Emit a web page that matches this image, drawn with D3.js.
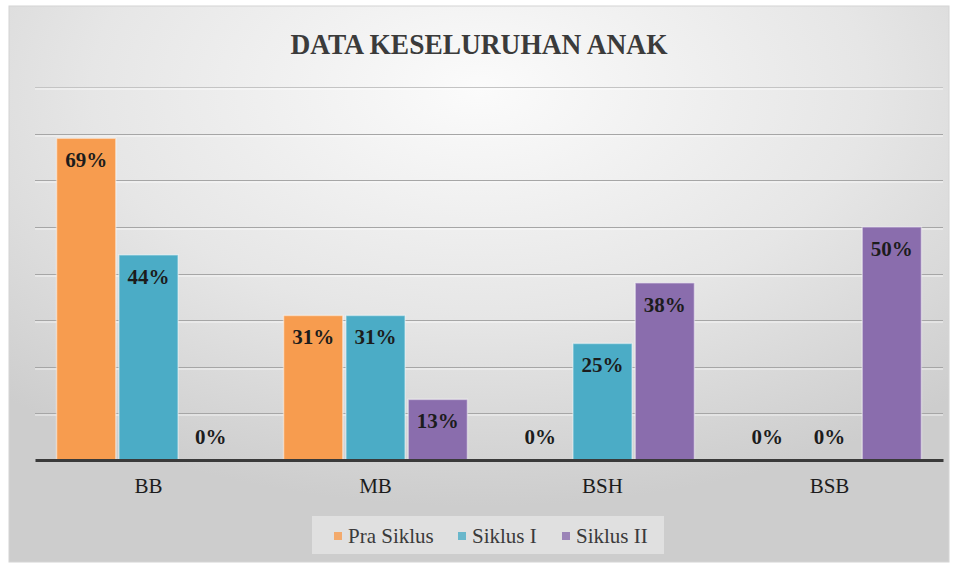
<!DOCTYPE html>
<html>
<head>
<meta charset="utf-8">
<script src="https://cdn.jsdelivr.net/npm/d3@7/dist/d3.min.js"></script>
<style>
  body { margin: 0; background: #fff; }
  svg text { font-family: 'Liberation Serif', 'Times New Roman', serif; }
</style>
</head>
<body>
<svg id="chart" width="958" height="567"></svg>
<script>
// chart data
var categories = ['BB', 'MB', 'BSH', 'BSB'];
var seriesNames = ['Pra Siklus', 'Siklus I', 'Siklus II'];
var praSiklus = [69, 31, 0, 0];
var siklusI = [44, 31, 25, 0];
var siklusII = [0, 13, 38, 50];
var gridTicks = [0, 10, 20, 30, 40, 50, 60, 70, 80];

var seriesValues = [praSiklus, siklusI, siklusII];
var colors = ['#F79C4F', '#4BACC6', '#8A6DAD'];

var svg = d3.select('#chart');
var defs = svg.append('defs');

// soft gray background like the office chart style
var grad = defs.append('radialGradient')
  .attr('id', 'bg')
  .attr('cx', '50%').attr('cy', '15%').attr('r', '75%');
grad.append('stop').attr('offset', '0%').attr('stop-color', '#fbfbfb');
grad.append('stop').attr('offset', '55%').attr('stop-color', '#e6e6e6');
grad.append('stop').attr('offset', '100%').attr('stop-color', '#cdcdcd');

svg.append('rect')
  .attr('x', 9).attr('y', 6)
  .attr('width', 940).attr('height', 556)
  .attr('fill', 'url(#bg)')
  .attr('stroke', '#d4d4d4');

var plotLeft = 35, plotRight = 943, plotTop = 87, baseline = 460;

var x0 = d3.scaleBand()
  .domain(categories)
  .range([plotLeft, plotRight])
  .paddingInner(0.19)
  .paddingOuter(0.095);

var x1 = d3.scaleBand()
  .domain(seriesNames)
  .range([0, x0.bandwidth()])
  .paddingInner(0.05);

var y = d3.scaleLinear()
  .domain([0, 80])
  .range([baseline, plotTop]);

// gridlines
var grid = svg.append('g');
grid.selectAll('line.g')
  .data(gridTicks.slice(1))
  .enter().append('line')
  .attr('class', 'g')
  .attr('x1', plotLeft).attr('x2', plotRight)
  .attr('y1', function(d){ return Math.round(y(d)) + 0.5; })
  .attr('y2', function(d){ return Math.round(y(d)) + 0.5; })
  .attr('stroke', function(d){ return d === 80 ? '#c4c4c4' : '#a6a6a6'; })
  .attr('stroke-width', 1);
grid.selectAll('line.h')
  .data(gridTicks.slice(1))
  .enter().append('line')
  .attr('class', 'h')
  .attr('x1', plotLeft).attr('x2', plotRight)
  .attr('y1', function(d){ return Math.round(y(d)) + 2; })
  .attr('y2', function(d){ return Math.round(y(d)) + 2; })
  .attr('stroke', '#ffffff')
  .attr('stroke-opacity', 0.7)
  .attr('stroke-width', 1);

// bars
var groups = svg.append('g').selectAll('g')
  .data(categories)
  .enter().append('g')
  .attr('transform', function(d){ return 'translate(' + x0(d) + ',0)'; });

groups.selectAll('rect')
  .data(function(d, i){
    return seriesNames.map(function(s, j){ return {s: s, v: seriesValues[j][i], c: colors[j]}; });
  })
  .enter().append('rect')
  .attr('x', function(d){ return x1(d.s); })
  .attr('y', function(d){ return y(d.v); })
  .attr('width', x1.bandwidth())
  .attr('height', function(d){ return baseline - y(d.v); })
  .attr('fill', function(d){ return d.c; })
  .attr('stroke', '#ffffff')
  .attr('stroke-opacity', function(d){ return d.v > 0 ? 0.45 : 0; })
  .attr('stroke-width', 1.5);

// data labels, inside the bar top (zero values sit just above the axis)
groups.selectAll('text')
  .data(function(d, i){
    return seriesNames.map(function(s, j){ return {s: s, v: seriesValues[j][i]}; });
  })
  .enter().append('text')
  .attr('x', function(d){ return x1(d.s) + x1.bandwidth() / 2; })
  .attr('y', function(d){ return d.v > 0 ? y(d.v) + 29 : baseline - 16; })
  .attr('text-anchor', 'middle')
  .attr('font-size', 21)
  .attr('font-weight', 'bold')
  .attr('fill', '#1c1c1c')
  .text(function(d){ return d.v + '%'; });

// baseline axis
var xAxis = svg.append('g')
  .attr('transform', 'translate(0,' + baseline + ')')
  .call(d3.axisBottom(x0).tickSize(0).tickPadding(18));
xAxis.attr('font-family', null);
xAxis.select('.domain')
  .attr('stroke', '#3a3a3a')
  .attr('stroke-width', 3);
xAxis.selectAll('text')
  .attr('font-size', 21)
  .attr('fill', '#1c1c1c');

// title
svg.append('text')
  .attr('x', 479).attr('y', 54)
  .attr('text-anchor', 'middle')
  .attr('font-size', 30)
  .attr('font-weight', 'bold')
  .attr('fill', '#3b3b3b')
  .attr('textLength', 377)
  .attr('lengthAdjust', 'spacingAndGlyphs')
  .text('DATA KESELURUHAN ANAK');

// legend
svg.append('rect')
  .attr('x', 312).attr('y', 516)
  .attr('width', 352).attr('height', 38)
  .attr('fill', '#ececec').attr('fill-opacity', 0.6);

var legendX = [334, 458, 562];
var legend = svg.append('g').selectAll('g')
  .data(seriesNames)
  .enter().append('g')
  .attr('transform', function(d, i){ return 'translate(' + legendX[i] + ',536)'; });
legend.append('rect')
  .attr('x', 0).attr('y', -4)
  .attr('width', 8).attr('height', 8)
  .attr('fill', function(d, i){ return colors[i]; })
  .attr('opacity', 0.8);
legend.append('text')
  .attr('x', 14).attr('y', 7)
  .attr('font-size', 21)
  .attr('fill', '#3a3a3a')
  .text(function(d){ return d; });
</script>
</body>
</html>
